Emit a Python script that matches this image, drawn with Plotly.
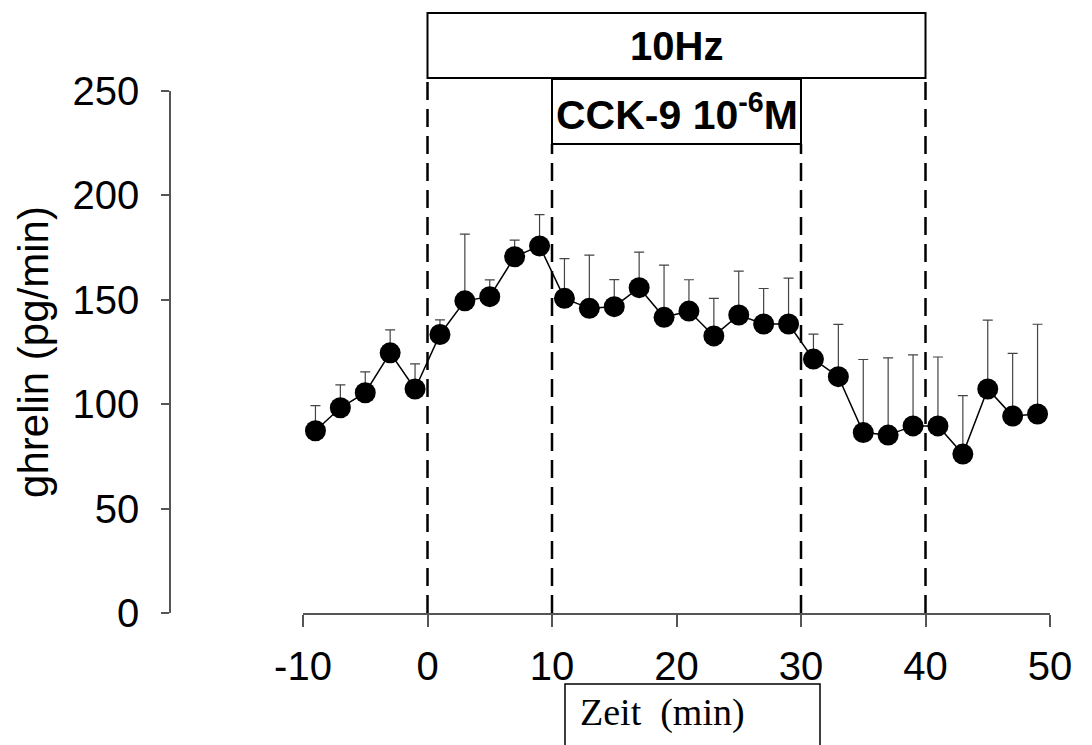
import plotly.graph_objects as go

# data
time_min = [-9, -7, -5, -3, -1, 1, 3, 5, 7, 9, 11, 13, 15, 17, 19, 21, 23, 25, 27, 29,
            31, 33, 35, 37, 39, 41, 43, 45, 47, 49]
ghrelin = [87.3, 98.3, 105.5, 124.6, 107.3, 133.4, 149.5, 151.5, 170.6, 175.8,
           150.7, 145.9, 146.7, 155.8, 141.6, 144.6, 132.7, 142.7, 138.4, 138.4,
           121.6, 113.2, 86.4, 85.2, 89.6, 89.6, 76.1, 107.3, 94.3, 95.3]
sem = [12, 11, 10, 11, 12, 7, 32, 8, 8, 15,
       19, 25.5, 13, 17, 25, 15, 18, 21, 17, 22,
       12, 25, 35, 37, 34, 33, 28, 33, 30, 43]
x_ticks = [-10, 0, 10, 20, 30, 40, 50]
x_tick_text = ["-10", "0", "10", "20", "30", "40", "50"]
y_ticks = [0, 50, 100, 150, 200, 250]
stim_start, stim_end = 0, 40       # 10Hz
cck_start, cck_end = 10, 30        # CCK-9
stim_label = "<b>10Hz</b>"
cck_label = "<b>CCK-9 10<sup>-6</sup>M</b>"
x_label = "Zeit  (min)"
y_label = "ghrelin (pg/min)"

# page offset of the plot div (browser body margin)
OFF = 8

fig = go.Figure()
fig.add_trace(go.Scatter(
    x=time_min, y=ghrelin, mode="lines+markers",
    line=dict(color="black", width=1.5),
    marker=dict(color="black", size=21),
    error_y=dict(type="data", array=sem, arrayminus=[0] * len(sem), symmetric=False,
                 color="#444444", thickness=1.2, width=5),
    showlegend=False,
))

AX = "#555555"
fig.update_layout(
    width=1092, height=745,
    paper_bgcolor="white", plot_bgcolor="white",
    margin=dict(l=170 - OFF, r=42 + OFF, t=91 - OFF, b=132 + OFF),
    font=dict(family="Arial, Liberation Sans, sans-serif", color="black"),
    xaxis=dict(domain=[133 / 880, 1], range=[-10, 50], tickvals=x_ticks,
               ticktext=x_tick_text,
               showline=True, linecolor=AX, linewidth=1.5,
               ticks="outside", ticklen=12, tickcolor=AX, tickwidth=1.5,
               tickfont=dict(size=40), ticklabelstandoff=5,
               showgrid=False, zeroline=False),
    yaxis=dict(anchor="free", position=0, range=[0, 250], tickvals=y_ticks,
               showline=True, linecolor=AX, linewidth=1.5,
               ticks="outside", ticklen=8, tickcolor=AX, tickwidth=1.5,
               tickfont=dict(size=40), ticklabelstandoff=14,
               title=dict(text=y_label, font=dict(size=42), standoff=10),
               showgrid=False, zeroline=False),
)

def py(pix):
    return (613 - pix) / 522

def px(pix):
    return (pix - 170) / 880

dash = "18px,9px"
for xv, top in [(stim_start, 78), (stim_end, 78), (cck_start, 144), (cck_end, 144)]:
    fig.add_shape(type="line", xref="x", yref="paper", x0=xv, x1=xv, y0=0, y1=py(top),
                  line=dict(color="black", width=2.5, dash=dash))

fig.add_shape(type="rect", xref="x", yref="paper", x0=stim_start, x1=stim_end,
              y0=py(78), y1=py(13), line=dict(color="black", width=2), fillcolor="white")
fig.add_shape(type="rect", xref="x", yref="paper", x0=cck_start, x1=cck_end,
              y0=py(144), y1=py(79), line=dict(color="black", width=2), fillcolor="white")
fig.add_annotation(xref="x", yref="paper", x=(stim_start + stim_end) / 2, y=py(46),
                   text=stim_label, showarrow=False, font=dict(size=40),
                   xanchor="center", yanchor="middle")
fig.add_annotation(xref="x", yref="paper", x=(cck_start + cck_end) / 2, y=py(112),
                   text=cck_label, showarrow=False, font=dict(size=41),
                   xanchor="center", yanchor="middle")

# x-axis label in a box below the axis
fig.add_shape(type="rect", xref="paper", yref="paper",
              x0=px(565), x1=px(820), y0=py(790), y1=py(684),
              line=dict(color="black", width=1.5))
fig.add_annotation(xref="paper", yref="paper", x=px(578), y=py(712),
                   text=x_label, showarrow=False, xanchor="left", yanchor="middle",
                   font=dict(family="Liberation Serif, Times New Roman, serif", size=38))

fig.write_html("out.html")
